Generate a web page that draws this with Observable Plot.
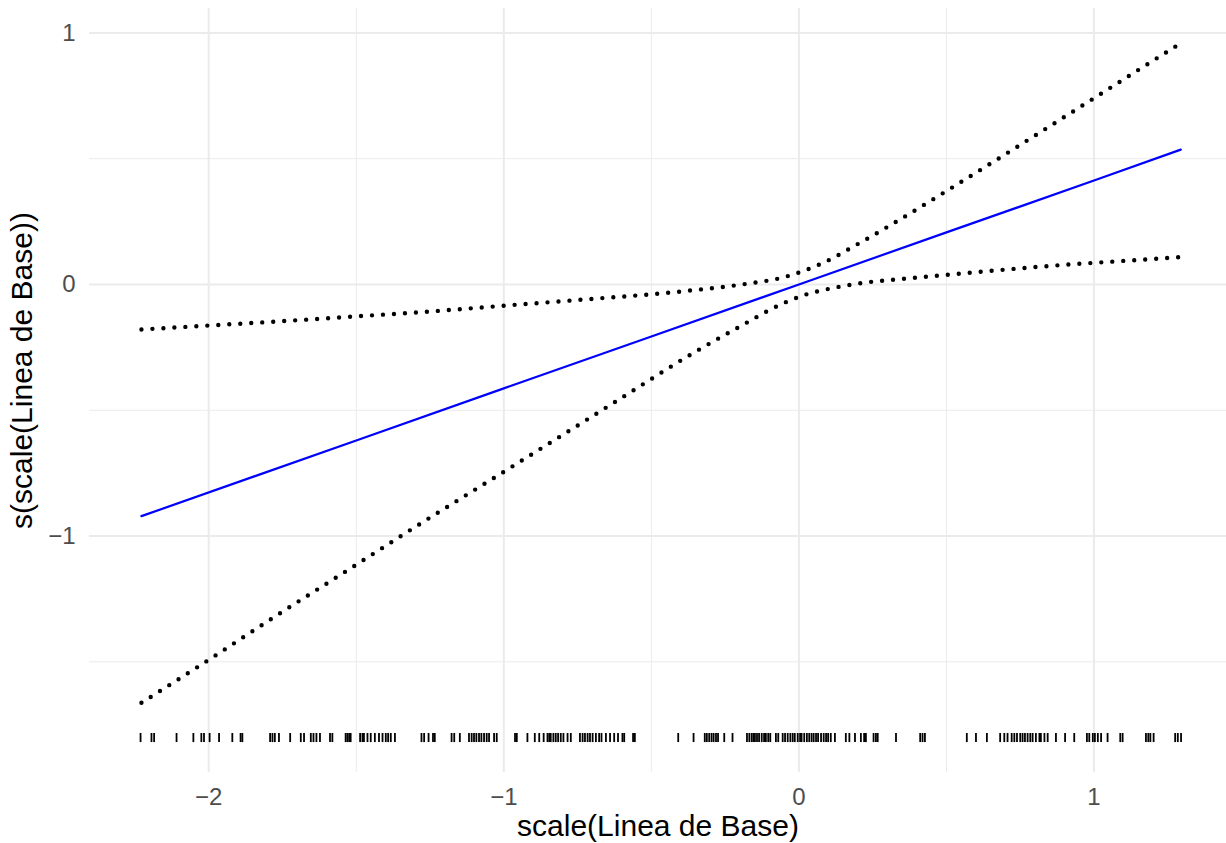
<!DOCTYPE html>
<html>
<head>
<meta charset="utf-8">
<script src="https://cdn.jsdelivr.net/npm/d3@7"></script>
<script src="https://cdn.jsdelivr.net/npm/@observablehq/plot@0.6"></script>
<style>
  html, body { margin: 0; padding: 0; background: #ffffff; }
  #chart { width: 1226px; height: 843px; }
</style>
</head>
<body>
<div id="chart"></div>
<script>
// Fitted smooth (blue line)
const fitX = [-2.228, -1.5, -1, -0.5, 0, 0.5, 1, 1.294];
const fitY = [-0.921, -0.620, -0.413, -0.207, 0, 0.207, 0.413, 0.536];

// Upper confidence band (dotted)
const upperX = [-2.228, -2.013, -1.765, -1.516, -1.268, -1.017, -0.663, -0.520, -0.343, -0.164, -0.057, 0.013, 0.084, 0.191, 0.299, 0.476, 0.654, 0.831, 1.010, 1.187, 1.294];
const upperY = [-0.179, -0.164, -0.147, -0.128, -0.109, -0.086, -0.054, -0.041, -0.021, 0.005, 0.027, 0.053, 0.087, 0.155, 0.228, 0.354, 0.484, 0.615, 0.748, 0.880, 0.959];

// Lower confidence band (dotted)
const lowerX = [-2.228, -2.013, -1.765, -1.516, -1.268, -1.017, -0.768, -0.627, -0.343, -0.200, -0.057, 0.013, 0.120, 0.228, 0.333, 0.547, 0.831, 1.117, 1.294];
const lowerY = [-1.663, -1.502, -1.312, -1.126, -0.940, -0.757, -0.574, -0.470, -0.262, -0.167, -0.077, -0.044, -0.013, 0.008, 0.020, 0.043, 0.072, 0.095, 0.109];

// Rug of observed covariate values
const rugX = [
  -2.231, -2.194, -2.185, -2.109, -2.052, -2.025, -2.016, -1.997, -1.965, -1.920, -1.892, -1.886,
  -1.792, -1.784, -1.776, -1.762, -1.724, -1.688, -1.677, -1.654, -1.645, -1.635, -1.623, -1.589, -1.581,
  -1.536, -1.530, -1.524, -1.519, -1.487, -1.479, -1.474, -1.462, -1.451, -1.437, -1.423, -1.411, -1.400,
  -1.392, -1.383, -1.369, -1.279, -1.270, -1.255, -1.240, -1.234, -1.177, -1.168, -1.149,
  -1.118, -1.109, -1.101, -1.093, -1.084, -1.076, -1.067, -1.058, -1.050, -1.033, -1.024,
  -0.962, -0.956, -0.920, -0.895, -0.880, -0.865, -0.852, -0.846, -0.841, -0.832, -0.824, -0.816, -0.807,
  -0.798, -0.784, -0.773, -0.742, -0.733, -0.725, -0.716, -0.708, -0.699, -0.688, -0.677, -0.669, -0.654,
  -0.640, -0.626, -0.613, -0.598, -0.592, -0.562, -0.556,
  -0.409, -0.357, -0.319, -0.312, -0.304, -0.296, -0.289, -0.281, -0.274, -0.253, -0.225,
  -0.176, -0.168, -0.160, -0.154, -0.149, -0.142, -0.135, -0.126, -0.118, -0.112, -0.104, -0.097,
  -0.078, -0.070, -0.055, -0.047, -0.038, -0.029, -0.021, -0.014, -0.004, 0.004, 0.009, 0.018, 0.027,
  0.035, 0.043, 0.050, 0.058, 0.065, 0.075, 0.084, 0.092, 0.099, 0.108, 0.122,
  0.159, 0.171, 0.190, 0.210, 0.221, 0.227, 0.253, 0.261, 0.267, 0.329, 0.411, 0.419, 0.427,
  0.569, 0.600, 0.637, 0.682, 0.696, 0.707, 0.721, 0.730, 0.739, 0.750, 0.758, 0.766, 0.775, 0.784,
  0.792, 0.803, 0.815, 0.820, 0.832, 0.843, 0.871, 0.902, 0.933, 0.976, 0.984, 0.996, 1.003, 1.013,
  1.024, 1.046, 1.089, 1.097, 1.176, 1.184, 1.191, 1.202, 1.275, 1.284, 1.295
];
const rugBottom = -1.821;
const rugTop = -1.785;

// Axis ticks and labels
const xMajor = [-2, -1, 0, 1];
const xMinor = [-1.5, -0.5, 0.5];
const yMajor = [-1, 0, 1];
const yMinor = [-1.5, -0.5, 0.5];
const xTitle = "scale(Linea de Base)";
const yTitle = "s(scale(Linea de Base))";

const fit = fitX.map((x, i) => ({x, y: fitY[i]}));
const upper = upperX.map((x, i) => ({x, y: upperY[i]}));
const lower = lowerX.map((x, i) => ({x, y: lowerY[i]}));

const fmt = d => (d < 0 ? "\u2212" + Math.abs(d) : String(d));
const grid = "#ebebeb";
const dotted = {stroke: "#000000", strokeWidth: 4.4, strokeDasharray: "0 11", strokeLinecap: "round", curve: "monotone-x"};

const chart = Plot.plot({
  width: 1226,
  height: 843,
  marginLeft: 89,
  marginRight: 0,
  marginTop: 8,
  marginBottom: 71,
  style: {fontFamily: "'Liberation Sans', Arial, Helvetica, sans-serif", background: "#ffffff"},
  x: {domain: [-2.404, 1.449]},
  y: {domain: [-1.94, 1.097]},
  marks: [
    Plot.gridX(xMinor, {stroke: grid, strokeOpacity: 1, strokeWidth: 1}),
    Plot.gridY(yMinor, {stroke: grid, strokeOpacity: 1, strokeWidth: 1}),
    Plot.gridX(xMajor, {stroke: grid, strokeOpacity: 1, strokeWidth: 2}),
    Plot.gridY(yMajor, {stroke: grid, strokeOpacity: 1, strokeWidth: 2}),
    Plot.axisX(xMajor, {tickSize: 0, tickPadding: 15, fontSize: 24, color: "#4d4d4d", tickFormat: fmt, label: null}),
    Plot.axisY(yMajor, {tickSize: 0, tickPadding: 14, fontSize: 24, color: "#4d4d4d", tickFormat: fmt, label: null}),
    Plot.ruleX(rugX, {y1: rugBottom, y2: rugTop, stroke: "#000000", strokeWidth: 1.8}),
    Plot.line(upper, {x: "x", y: "y", ...dotted}),
    Plot.line(lower, {x: "x", y: "y", ...dotted}),
    Plot.line(fit, {x: "x", y: "y", stroke: "#0000ff", strokeWidth: 2.2}),
    Plot.text([xTitle], {frameAnchor: "bottom", dy: 54, lineAnchor: "middle", textAnchor: "middle", fontSize: 30, fill: "#000000", text: d => d}),
    Plot.text([yTitle], {frameAnchor: "left", dx: -67, dy: -20, rotate: -90, lineAnchor: "middle", textAnchor: "middle", fontSize: 30, fill: "#000000", text: d => d})
  ]
});
document.getElementById("chart").appendChild(chart);
</script>
</body>
</html>
